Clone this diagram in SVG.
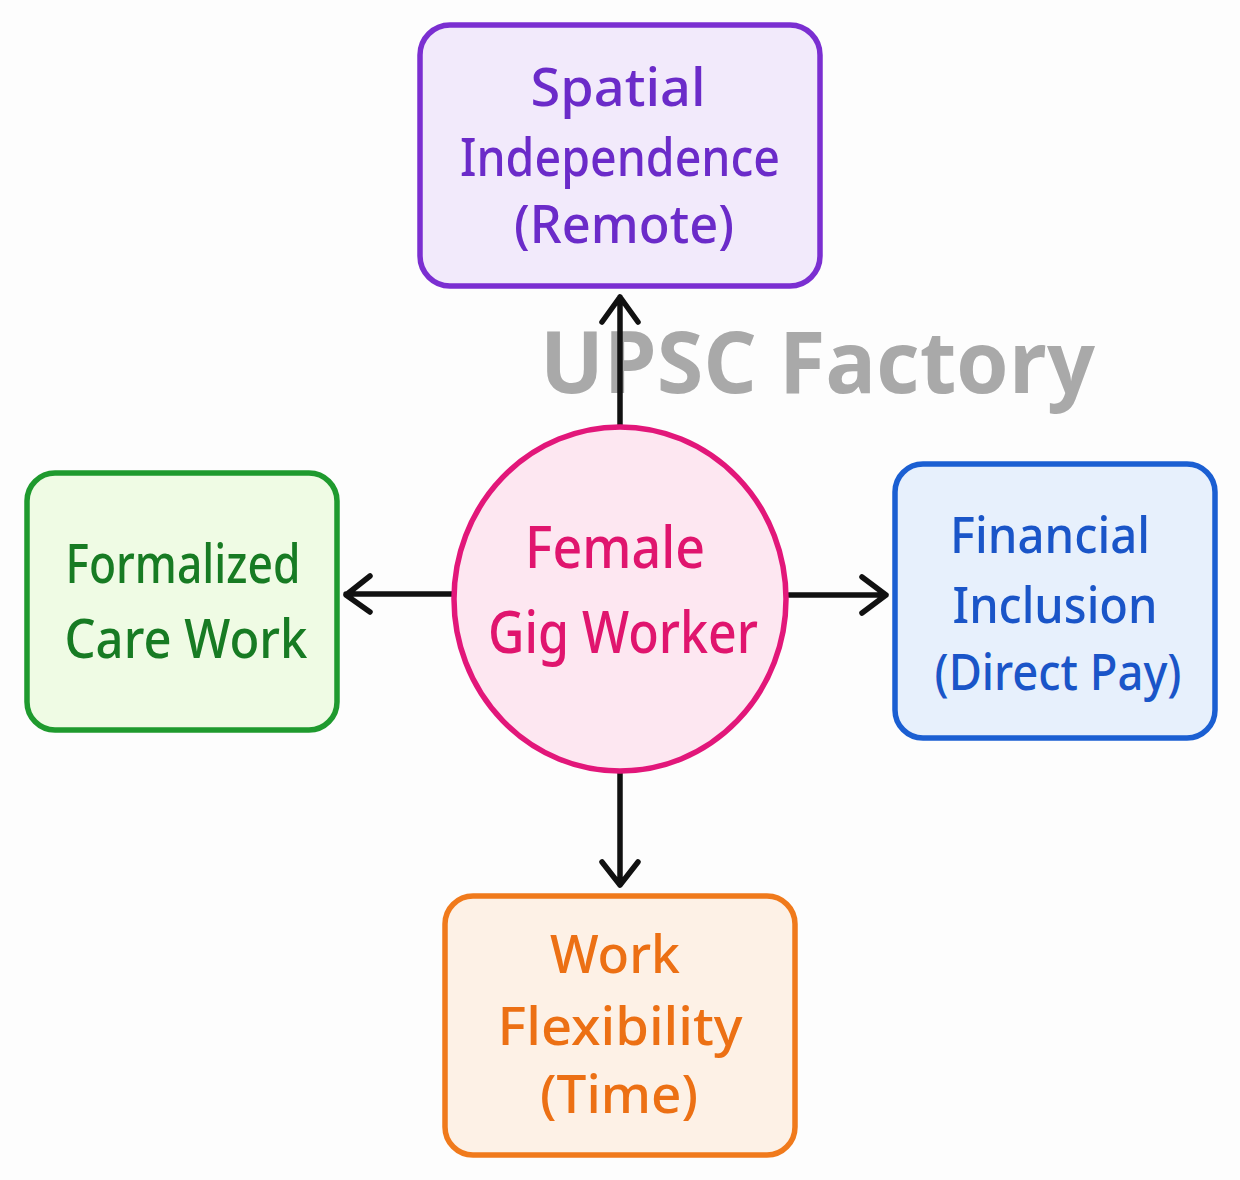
<svg xmlns="http://www.w3.org/2000/svg" width="1240" height="1180" viewBox="0 0 1240 1180">
<defs>
<style>
.t{font-family:"Noto Sans","Open Sans","DejaVu Sans",sans-serif;font-weight:500;text-anchor:middle}
.box{stroke-width:5.5}
.arr{stroke:#111;stroke-width:5.5;fill:none;stroke-linecap:round;stroke-linejoin:round}
.wm{font-family:"Open Sans","Noto Sans",sans-serif;font-weight:700;fill:#a9a9a9;font-size:86px}
</style>
</defs>
<rect width="1240" height="1180" fill="#fdfdfd"/>
<text class="wm" x="540" y="393" textLength="555" lengthAdjust="spacingAndGlyphs">UPSC Factory</text>
<g id="connectors">
<path class="arr" d="M620 427 V297 M602 322 L620 297 L638 322"/>
<path class="arr" d="M789 595 H886 M862 577 L886 595 L862 613"/>
<path class="arr" d="M452 594 H346 M370 576 L346 595 L370 612"/>
<path class="arr" d="M620 773 V885 M602 862 L620 885 L638 862"/>
</g>
<g id="node-top">
<rect class="box" x="420" y="25" width="400" height="261" rx="30" fill="#f2eafb" stroke="#7b2fd1"/>
<g class="t" fill="#6b2bc9" font-size="52">
<text x="618" y="106" textLength="175" lengthAdjust="spacingAndGlyphs">Spatial</text>
<text x="620" y="176" textLength="320" lengthAdjust="spacingAndGlyphs">Independence</text>
<text x="624" y="243" textLength="220" lengthAdjust="spacingAndGlyphs">(Remote)</text>
</g>
</g>
<g id="node-center">
<ellipse cx="620" cy="599" rx="166" ry="172" fill="#fde7f1" stroke="#e2177a" stroke-width="5.5"/>
<g class="t" fill="#e0156e" font-size="58">
<text x="615" y="568" textLength="180" lengthAdjust="spacingAndGlyphs">Female</text>
<text x="623" y="653" textLength="270" lengthAdjust="spacingAndGlyphs">Gig Worker</text>
</g>
</g>
<g id="node-left">
<rect class="box" x="27" y="473" width="310" height="257" rx="28" fill="#effbe4" stroke="#1f9a2e"/>
<g class="t" fill="#177b23" font-size="54">
<text x="183" y="583" textLength="235" lengthAdjust="spacingAndGlyphs">Formalized</text>
<text x="186" y="658" textLength="243" lengthAdjust="spacingAndGlyphs">Care Work</text>
</g>
</g>
<g id="node-right">
<rect class="box" x="895" y="464" width="320" height="274" rx="28" fill="#e7f0fc" stroke="#1b5fd2"/>
<g class="t" fill="#1a55c8" font-size="50">
<text x="1050" y="553" textLength="200" lengthAdjust="spacingAndGlyphs">Financial</text>
<text x="1055" y="623" textLength="205" lengthAdjust="spacingAndGlyphs">Inclusion</text>
<text x="1058" y="690" textLength="247" lengthAdjust="spacingAndGlyphs">(Direct Pay)</text>
</g>
</g>
<g id="node-bottom">
<rect class="box" x="445" y="896" width="350" height="259" rx="28" fill="#fdf1e6" stroke="#f07a1c"/>
<g class="t" fill="#ec7014" font-size="52">
<text x="615" y="973" textLength="130" lengthAdjust="spacingAndGlyphs">Work</text>
<text x="620" y="1045" textLength="245" lengthAdjust="spacingAndGlyphs">Flexibility</text>
<text x="619" y="1113" textLength="158" lengthAdjust="spacingAndGlyphs">(Time)</text>
</g>
</g>
</svg>
